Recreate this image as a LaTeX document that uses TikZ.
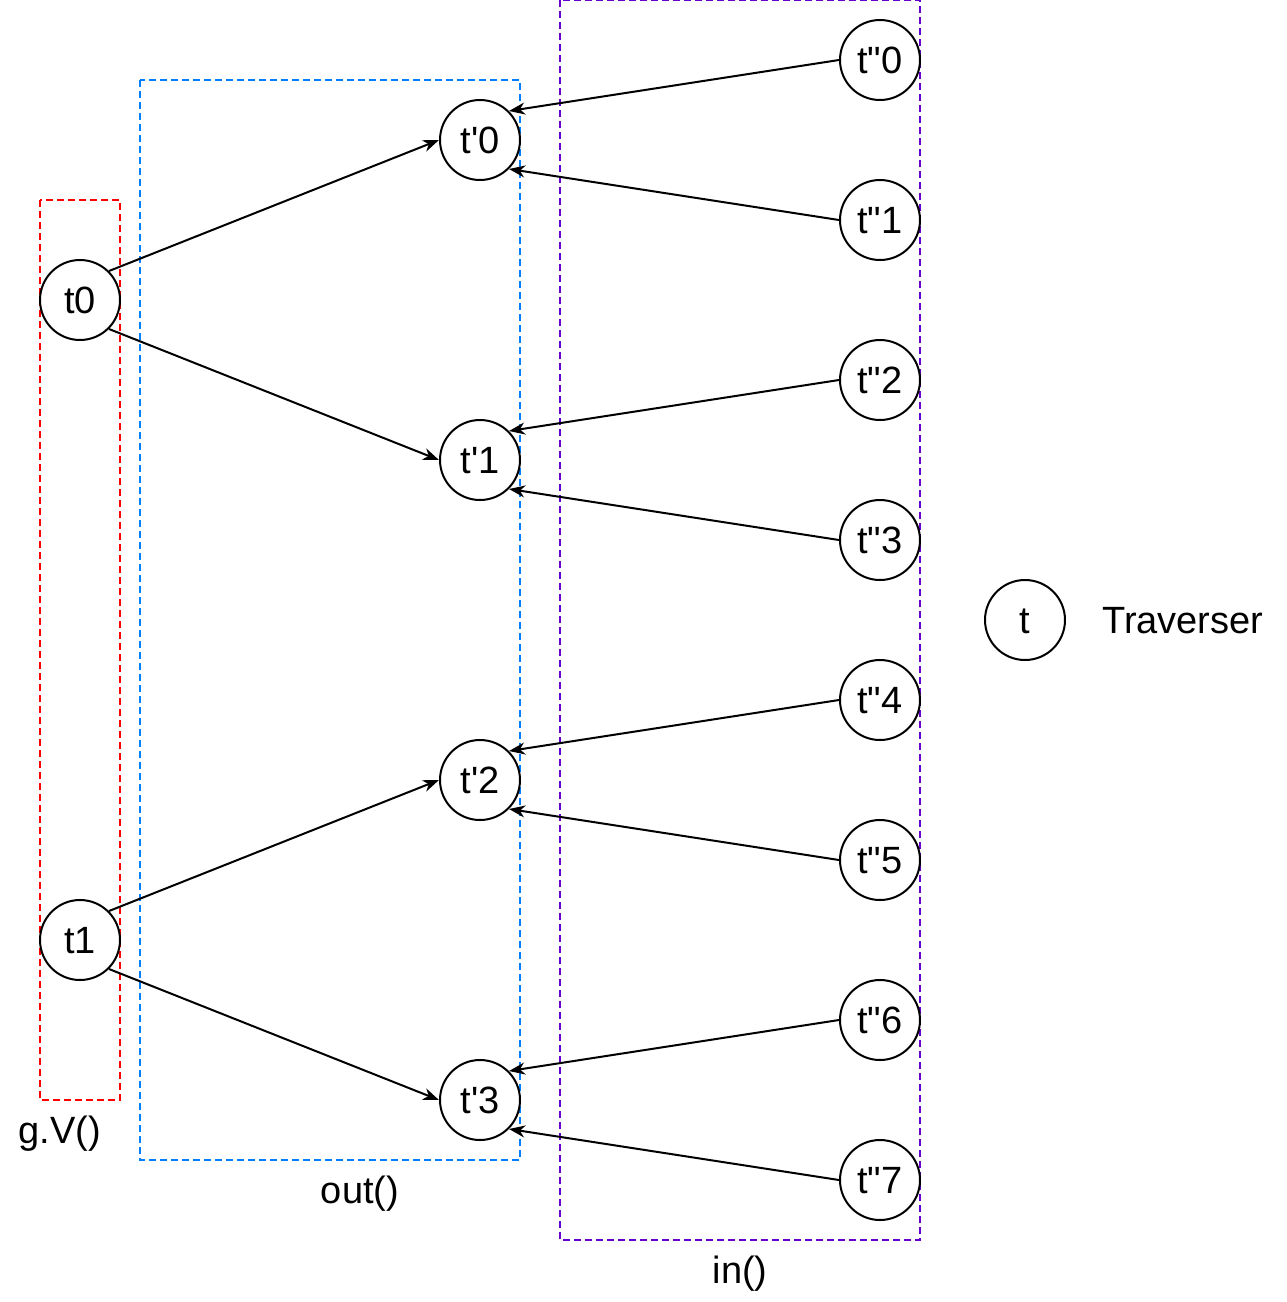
\documentclass[tikz,border=0pt]{standalone}
\usepackage{fontspec}
\newfontfamily\arialf{Liberation Sans}
\usetikzlibrary{arrows.meta}
\definecolor{boxred}{HTML}{FF0000}
\definecolor{boxblue}{HTML}{007FFF}
\definecolor{boxpurple}{HTML}{6600CC}
\begin{document}
\begin{tikzpicture}[x=1pt,y=-1pt,
  trav/.style={circle,draw=black,line width=2pt,minimum size=80pt,inner sep=0pt,
    font=\arialf\fontsize{38}{42}\selectfont,text height=27pt,text depth=0pt},
  lbl/.style={font=\arialf\fontsize{38}{42}\selectfont,inner sep=0pt},
  grp/.style={line width=2pt,dash pattern=on 7pt off 4pt},
  edge/.style={line width=2pt,-{Stealth[length=16pt,width=12pt,inset=5pt]}}]
\useasboundingbox (0,0) rectangle (1286,1302);
% group boxes
\draw[grp,boxred] (40,200) rectangle (120,1100);
\draw[grp,boxblue] (140,80) rectangle (520,1160);
\draw[grp,boxpurple] (560,0) rectangle (920,1240);
% nodes
\node[trav] (t0) at (80,300) {t0};
\node[trav] (t1) at (80,940) {t1};
\node[trav] (p0) at (480,140) {t'0};
\node[trav] (p1) at (480,460) {t'1};
\node[trav] (p2) at (480,780) {t'2};
\node[trav] (p3) at (480,1100) {t'3};
\foreach \k in {0,...,7}{
  \node[trav] (q\k) at (880,60+160*\k) {t"\k};
}
\node[trav] (leg) at (1025,620) {t};
% labels
\node[lbl,anchor=base] (lg) at (60,1143) {g.V()};
\node[lbl,anchor=base] (lo) at (360,1203) {out()};
\node[lbl,anchor=base] (li) at (740,1283) {in()};
\node[lbl,anchor=base west] (lt) at (1102,633) {Traverser};
% edges
\draw[edge] (t0.north east) -- (p0.west);
\draw[edge] (t0.south east) -- (p1.west);
\draw[edge] (t1.north east) -- (p2.west);
\draw[edge] (t1.south east) -- (p3.west);
\draw[edge] (q0.west) -- (p0.north east);
\draw[edge] (q1.west) -- (p0.south east);
\draw[edge] (q2.west) -- (p1.north east);
\draw[edge] (q3.west) -- (p1.south east);
\draw[edge] (q4.west) -- (p2.north east);
\draw[edge] (q5.west) -- (p2.south east);
\draw[edge] (q6.west) -- (p3.north east);
\draw[edge] (q7.west) -- (p3.south east);
\end{tikzpicture}
\end{document}
